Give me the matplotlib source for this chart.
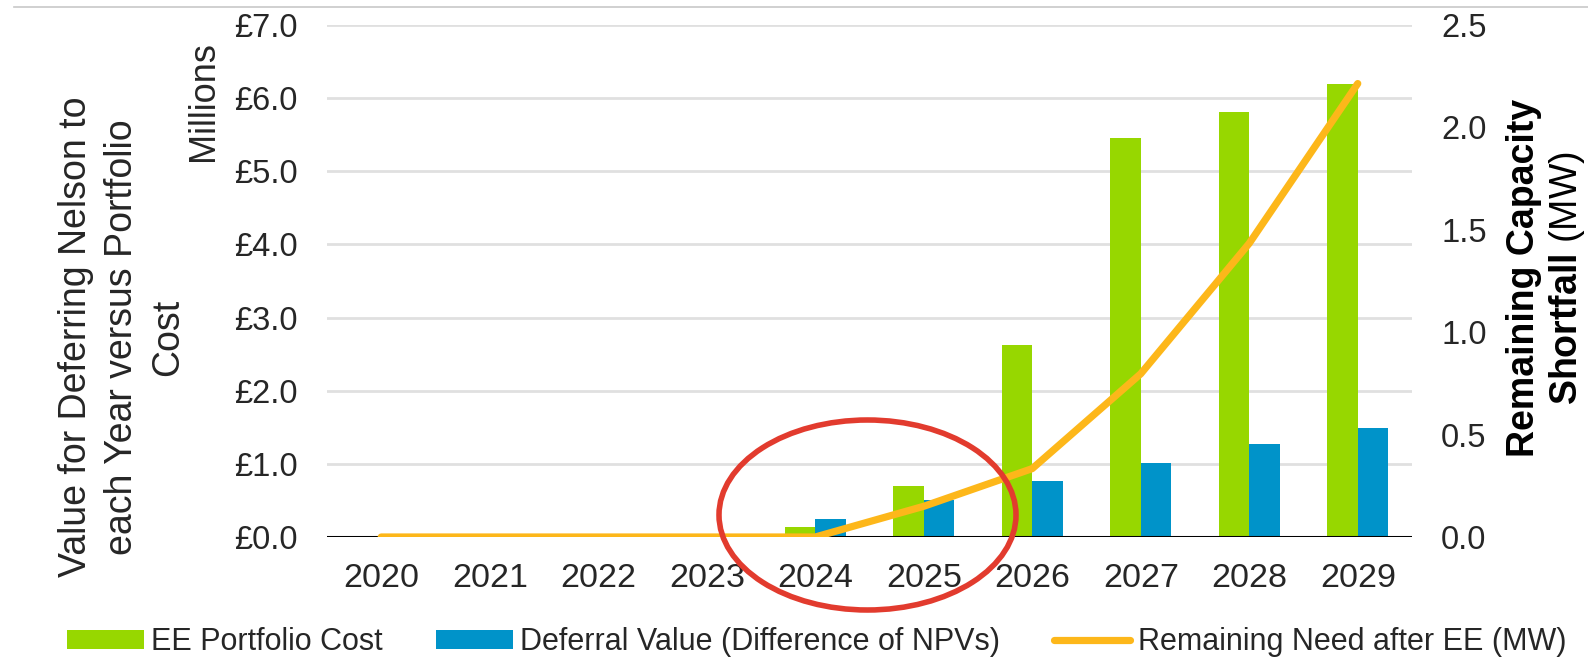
import matplotlib
matplotlib.use("Agg")
import matplotlib.pyplot as plt
from matplotlib.patches import Ellipse
from matplotlib.lines import Line2D
import numpy as np

plt.rcParams['font.family'] = ['Liberation Sans', 'DejaVu Sans']
plt.rcParams['mathtext.fontset'] = 'custom'
plt.rcParams['mathtext.rm'] = 'Liberation Sans'
plt.rcParams['mathtext.bf'] = 'Liberation Sans:bold'

# values in GBP millions (left) and MW (right)
years = ['2020', '2021', '2022', '2023', '2024', '2025', '2026', '2027', '2028', '2029']
ee_cost = [0, 0, 0, 0, 0.13, 0.70, 2.63, 5.46, 5.81, 6.19]
deferral_value = [0, 0, 0, 0, 0.25, 0.50, 0.76, 1.01, 1.27, 1.49]
remaining_need = [0, 0, 0, 0, 0, 0.15, 0.334, 0.797, 1.434, 2.214]

left_ticks = [0, 1, 2, 3, 4, 5, 6, 7]
left_labels = ['£0.0', '£1.0', '£2.0', '£3.0', '£4.0', '£5.0', '£6.0', '£7.0']
right_ticks = [0, 0.5, 1.0, 1.5, 2.0, 2.5]
right_labels = ['0.0', '0.5', '1.0', '1.5', '2.0', '2.5']

GREEN = '#97d700'
BLUE = '#0093c9'
ORANGE = '#fdb71a'
TXT = '#262626'

fig = plt.figure(figsize=(15.88, 6.57), dpi=100)
ax = fig.add_axes([327 / 1588, 1 - 537 / 657, 1085 / 1588, 512 / 657])
ax2 = ax.twinx()

x = np.arange(len(years))
w = 0.283
ax.bar(x - w / 2, ee_cost, w, color=GREEN, label='EE Portfolio Cost', zorder=2)
ax.bar(x + w / 2, deferral_value, w, color=BLUE,
       label='Deferral Value (Difference of NPVs)', zorder=2)
ax.axhline(0, color='black', lw=2.2, zorder=3)

ax2.plot(x, remaining_need, color=ORANGE, lw=5.2, solid_capstyle='round',
         label='Remaining Need after EE (MW)')

ax.set_xlim(-0.5, len(years) - 0.5)
ax.set_ylim(0, 7)
ax2.set_ylim(0, 2.5)
ax.set_yticks(left_ticks)
ax.set_yticklabels(left_labels)
ax2.set_yticks(right_ticks)
ax2.set_yticklabels(right_labels)
ax.set_xticks(x)
ax.set_xticklabels(years)

ax.grid(axis='y', color='#e0e0e0', lw=2)
ax.set_axisbelow(True)
for a in (ax, ax2):
    for s in a.spines.values():
        s.set_visible(False)
ax.tick_params(axis='both', length=0, labelsize=23.5, colors=TXT)
ax.tick_params(axis='y', pad=21)
ax.tick_params(axis='x', pad=19, labelsize=24.5)
ax2.tick_params(axis='y', length=0, labelsize=23.5, colors=TXT, pad=21)

# axis titles
fig.text(122 / 1588, 1 - 337 / 657,
         'Value for Deferring Nelson to\neach Year versus Portfolio\nCost',
         rotation=90, ha='center', va='center', multialignment='center',
         fontsize=27, color=TXT, linespacing=1.36)
fig.text(203 / 1588, 1 - 101 / 657, 'Millions', rotation=90,
         ha='center', va='center', fontsize=26, color=TXT)
fig.text(1524 / 1588, 1 - 278 / 657, 'Remaining Capacity', rotation=90,
         ha='center', va='center', fontsize=27, fontweight='bold', color='black')
fig.text(1567 / 1588, 1 - 278 / 657, r'$\mathbf{Shortfall}$ (MW)', rotation=90,
         ha='center', va='center', fontsize=27, color='black')

# legend
h1, l1 = ax.get_legend_handles_labels()
h2, l2 = ax2.get_legend_handles_labels()
fig.legend(h1 + h2, l1 + l2, loc='center', bbox_to_anchor=(0.5144, 1 - 642 / 657),
           ncol=3, frameon=False, fontsize=22, handlelength=2.5, handleheight=0.6,
           handletextpad=0.25, columnspacing=1.75, labelcolor=TXT)

# highlight ring round 2024-2025
ring = Ellipse((867.5 / 1588, 1 - 515 / 657), 297 / 1588, 190 / 657,
               transform=fig.transFigure, fill=False, edgecolor='#e23b2e',
               lw=4.0, zorder=10)
fig.add_artist(ring)

# thin rule along the top
fig.add_artist(Line2D([14 / 1588, 1], [1 - 7 / 657, 1 - 7 / 657],
                      transform=fig.transFigure, color='#c8c8c8', lw=1.2))

fig.savefig('out.png', dpi=100)
